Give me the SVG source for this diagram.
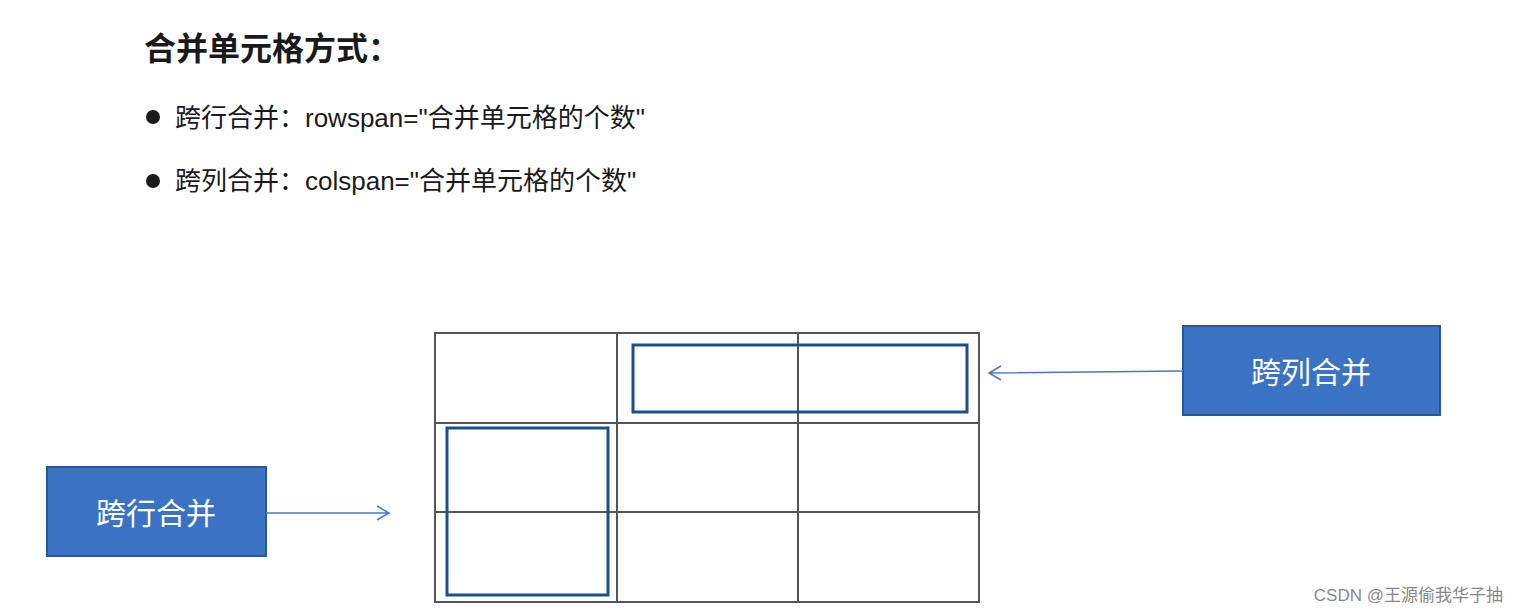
<svg xmlns="http://www.w3.org/2000/svg" width="1518" height="613" viewBox="0 0 1518 613">
<style>
.t{font-family:"Liberation Sans","Noto Sans CJK SC",sans-serif;fill:#1a1a1a}
.grid{stroke:#555;stroke-width:2;fill:none}
.merge{stroke:#1f4e8f;stroke-width:3;fill:none}
.box{fill:#3a72c4;stroke:#2a5699;stroke-width:2}
.bt{font-family:"Noto Sans CJK SC",sans-serif;font-size:30px;fill:#fff;text-anchor:middle}
.con{stroke:#4a78c4;stroke-width:1.5;fill:none}
</style>
<rect width="1518" height="613" fill="#fff"/>
<text class="t" x="144" y="60" font-size="32" font-weight="bold">合并单元格方式：</text>
<circle cx="153" cy="117" r="7" fill="#1a1a1a"/>
<text class="t" x="175" y="127" font-size="26">跨行合并：rowspan="合并单元格的个数"</text>
<circle cx="153" cy="181" r="7" fill="#1a1a1a"/>
<text class="t" x="175" y="190" font-size="26">跨列合并：colspan="合并单元格的个数"</text>
<g id="table">
<rect class="grid" x="435" y="333" width="544" height="269"/>
<line class="grid" x1="617" y1="333" x2="617" y2="602"/>
<line class="grid" x1="798" y1="333" x2="798" y2="602"/>
<line class="grid" x1="435" y1="423" x2="979" y2="423"/>
<line class="grid" x1="435" y1="512" x2="979" y2="512"/>
</g>
<g id="colspan-cell"><rect x="633" y="345" width="334" height="67" fill="#fff" class="merge"/></g>
<g id="rowspan-cell"><rect x="447" y="428" width="161" height="167" fill="#fff" class="merge"/></g>
<g id="node-col"><rect class="box" x="1183" y="326" width="257" height="89"/><text class="bt" x="1311" y="383">跨列合并</text></g>
<g id="node-row"><rect class="box" x="47" y="467" width="219" height="89"/><text class="bt" x="156" y="524">跨行合并</text></g>
<g id="connectors">
<path class="con" d="M1183 371 L989 373 M1001 366 L989 373 L1001 380"/>
<path class="con" d="M266 513 L389 513 M377 506 L389 513 L377 520"/>
</g>
<text x="1503" y="601" font-family="Liberation Sans,'Noto Sans CJK SC',sans-serif" font-size="17" fill="#888" text-anchor="end">CSDN @王源偷我华子抽</text>
</svg>
